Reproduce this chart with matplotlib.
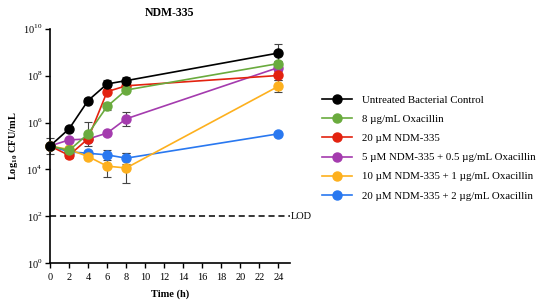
import matplotlib
matplotlib.use("Agg")
import matplotlib.pyplot as plt
import numpy as np
from matplotlib.ticker import FixedLocator, NullLocator

plt.rcParams["font.family"] = ["Liberation Serif", "DejaVu Serif"]
plt.rcParams["mathtext.fontset"] = "custom"
plt.rcParams["mathtext.rm"] = "Liberation Serif"
plt.rcParams["mathtext.bf"] = "Liberation Serif:bold"

time_h = [0, 2, 4, 6, 8, 24]

labels = [
    "Untreated Bacterial Control",
    "8 \u00b5g/mL Oxacillin",
    "20 \u00b5M NDM-335",
    "5 \u00b5M NDM-335 + 0.5 \u00b5g/mL Oxacillin",
    "10 \u00b5M NDM-335 + 1 \u00b5g/mL Oxacillin",
    "20 \u00b5M NDM-335 + 2 \u00b5g/mL Oxacillin",
]
colors = ["#000000", "#6AAB3E", "#E3220F", "#A43BAE", "#FDB01E", "#2978F0"]

# log10 CFU/mL means and SD (log units)
control_log = [5.0, 5.73, 6.94, 7.65, 7.79, 8.97]
control_err = [0.35, 0.1, 0.1, 0.15, 0.15, 0.38]
oxa8_log = [5.0, 4.81, 5.52, 6.69, 7.39, 8.52]
oxa8_err = [0.1, 0.1, 0.5, 0.15, 0.1, 0.1]
ndm20_log = [5.0, 4.6, 5.31, 7.32, 7.57, 8.01]
ndm20_err = [0.1, 0.1, 0.1, 0.1, 0.1, 0.2]
combo5_log = [5.0, 5.26, 5.3, 5.55, 6.16, 8.35]
combo5_err = [0.1, 0.1, 0.1, 0.1, 0.3, 0.1]
combo10_log = [5.0, 4.85, 4.55, 4.14, 4.06, 7.55]
combo10_err = [0.1, 0.1, 0.1, 0.48, 0.66, 0.26]
combo20_log = [5.0, 4.75, 4.69, 4.62, 4.48, 5.52]
combo20_err = [0.1, 0.1, 0.1, 0.2, 0.24, 0.05]

series_log = [control_log, oxa8_log, ndm20_log, combo5_log, combo10_log, combo20_log]
series_err = [control_err, oxa8_err, ndm20_err, combo5_err, combo10_err, combo20_err]

lod = 100

fig = plt.figure(figsize=(5.39, 3.01), dpi=100)
ax = fig.add_axes([0.0928, 0.126, 0.445, 0.778])

handles = []
# draw back to front so control is on top
for i in reversed(range(len(labels))):
    mean = np.array(series_log[i])
    err = np.array(series_err[i])
    y = 10 ** mean
    yerr = [y - 10 ** (mean - err), 10 ** (mean + err) - y]
    ax.errorbar(time_h, y, yerr=yerr, fmt="none", ecolor="#444444",
                elinewidth=0.8, capsize=3, capthick=0.8, zorder=2,
                clip_on=False)
    line, = ax.plot(time_h, y, color=colors[i], marker="o", markersize=6.5,
                    linewidth=1.2, label=labels[i], zorder=3 + (6 - i),
                    clip_on=False)
    handles.append(line)
handles = handles[::-1]

ax.axhline(lod, color="black", linestyle=(0, (4, 2.5)), linewidth=1.1, zorder=1)
ax.text(25.3, lod, "LOD", fontsize=7.5, va="center", ha="left")

ax.set_yscale("log")
ax.set_ylim(1, 1e10)
ax.set_xlim(0, 25.2)
ax.yaxis.set_major_locator(FixedLocator([10.0 ** k for k in range(0, 11, 2)]))
ax.yaxis.set_minor_locator(NullLocator())
ax.set_yticklabels([r"$10^{%d}$" % k for k in range(0, 11, 2)])
ax.set_xticks(list(range(0, 25, 2)))

ax.spines["top"].set_visible(False)
ax.spines["right"].set_visible(False)
ax.spines["left"].set_linewidth(1.2)
ax.spines["bottom"].set_linewidth(1.2)
ax.tick_params(axis="both", labelsize=7.5, width=1.0, length=3.5)
ax.tick_params(axis="x", pad=4)
ax.tick_params(axis="y", pad=2)

ax.set_title("NDM-335", fontsize=8.5, fontweight="bold", pad=9)
ax.set_xlabel("Time (h)", fontsize=7.5, fontweight="bold", labelpad=5)
ax.set_ylabel(r"$\mathbf{Log_{10}}$ CFU/mL", fontsize=7.5, fontweight="bold",
              labelpad=2)

fig.legend(handles=handles, labels=labels, loc="upper left",
           bbox_to_anchor=(0.597, 0.683), frameon=False, fontsize=7.8,
           handlelength=2.77, handletextpad=0.92, labelspacing=0.88,
           borderaxespad=0, borderpad=0)

fig.savefig("out.png", dpi=100, facecolor="white")
